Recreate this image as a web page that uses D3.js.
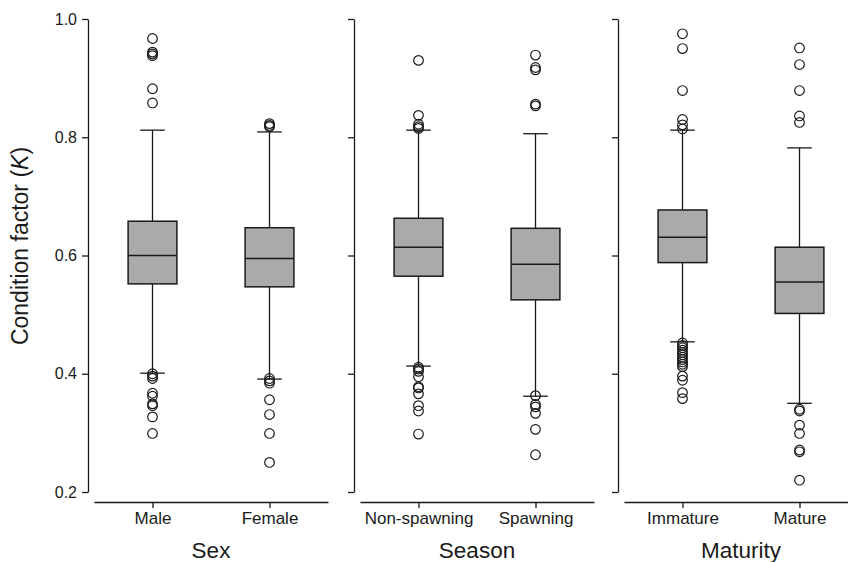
<!DOCTYPE html>
<html>
<head>
<meta charset="utf-8">
<script src="https://cdn.jsdelivr.net/npm/d3@7"></script>
<style>
  body { margin: 0; background: #fff; }
  svg { display: block; }
</style>
</head>
<body>
<div id="chart"></div>
<script>
// Data
const groupNames = ["Sex", "Season", "Maturity"];
const categories = ["Male", "Female", "Non-spawning", "Spawning", "Immature", "Mature"];
const groupOf = [0, 0, 1, 1, 2, 2];
const q3 = [0.658, 0.647, 0.663, 0.646, 0.677, 0.614];
const medians = [0.600, 0.595, 0.614, 0.585, 0.631, 0.555];
const q1 = [0.552, 0.547, 0.565, 0.525, 0.588, 0.502];
const whiskerHigh = [0.812, 0.809, 0.812, 0.806, 0.812, 0.782];
const whiskerLow = [0.401, 0.391, 0.413, 0.362, 0.454, 0.350];
const outliers = [
  [0.967, 0.944, 0.941, 0.938, 0.882, 0.858, 0.400, 0.396, 0.392, 0.367, 0.362, 0.349, 0.346, 0.327, 0.299],
  [0.823, 0.820, 0.818, 0.392, 0.388, 0.384, 0.356, 0.331, 0.299, 0.250],
  [0.930, 0.837, 0.822, 0.818, 0.815, 0.411, 0.408, 0.404, 0.395, 0.378, 0.376, 0.366, 0.346, 0.337, 0.298],
  [0.939, 0.918, 0.914, 0.856, 0.853, 0.363, 0.348, 0.344, 0.333, 0.306, 0.263],
  [0.975, 0.950, 0.879, 0.830, 0.821, 0.814, 0.452, 0.448, 0.444, 0.440, 0.436, 0.432, 0.428,
   0.424, 0.420, 0.416, 0.412, 0.396, 0.389, 0.368, 0.358],
  [0.951, 0.923, 0.879, 0.836, 0.825, 0.340, 0.337, 0.313, 0.299, 0.271, 0.268, 0.220]
];
const yTicks = [0.2, 0.4, 0.6, 0.8, 1.0];

// Layout
const width = 848;
const height = 562;
const panelLeft = [88, 354, 618];
const xAxisY = 502;
const boxHalf = 24.4;
const capHalf = 12.3;
const ink = "#1a1a1a";
const font = "'Liberation Sans', Arial, sans-serif";

const svg = d3.select("#chart")
  .append("svg")
  .attr("width", width)
  .attr("height", height)
  .attr("viewBox", `0 0 ${width} ${height}`)
  .style("font-family", font);

const y = d3.scaleLinear().domain([0.2, 1.0]).range([492, 19]);

groupNames.forEach((name, gi) => {
  const cats = categories.filter((c, i) => groupOf[i] === gi);
  const idx = categories.map((c, i) => i).filter(i => groupOf[i] === gi);

  const panel = svg.append("g")
    .attr("transform", `translate(${panelLeft[gi]},0)`);

  const x = d3.scalePoint()
    .domain(cats)
    .range([6, 240])
    .padding(0.5);

  // y axis (labels only on the first panel)
  const yAxis = panel.append("g")
    .call(d3.axisLeft(y)
      .tickValues(yTicks)
      .tickSize(6)
      .tickSizeOuter(0)
      .tickPadding(5)
      .tickFormat(gi === 0 ? d3.format(".1f") : () => ""));

  // x axis
  const xAxis = panel.append("g")
    .attr("transform", `translate(0,${xAxisY})`)
    .call(d3.axisBottom(x)
      .tickSize(6)
      .tickSizeOuter(0)
      .tickPadding(4));

  [yAxis, xAxis].forEach(ax => {
    ax.selectAll("path, line").attr("stroke", ink).attr("stroke-width", 1.3);
    ax.selectAll("text").attr("fill", ink).style("font-family", font);
  });
  yAxis.selectAll("text").style("font-size", "16px");
  xAxis.selectAll("text").style("font-size", "17px");

  // boxes
  const boxes = panel.selectAll(".box")
    .data(idx)
    .enter()
    .append("g")
    .attr("class", "box")
    .attr("transform", i => `translate(${x(categories[i])},0)`);

  // whisker stems
  boxes.append("line")
    .attr("x1", 0).attr("x2", 0)
    .attr("y1", i => y(whiskerHigh[i]))
    .attr("y2", i => y(q3[i]))
    .attr("stroke", ink).attr("stroke-width", 1.3);
  boxes.append("line")
    .attr("x1", 0).attr("x2", 0)
    .attr("y1", i => y(q1[i]))
    .attr("y2", i => y(whiskerLow[i]))
    .attr("stroke", ink).attr("stroke-width", 1.3);

  // caps
  [whiskerHigh, whiskerLow].forEach(w => {
    boxes.append("line")
      .attr("x1", -capHalf).attr("x2", capHalf)
      .attr("y1", i => y(w[i])).attr("y2", i => y(w[i]))
      .attr("stroke", ink).attr("stroke-width", 1.3);
  });

  // box
  boxes.append("rect")
    .attr("x", -boxHalf)
    .attr("width", boxHalf * 2)
    .attr("y", i => y(q3[i]))
    .attr("height", i => y(q1[i]) - y(q3[i]))
    .attr("fill", "#aaaaaa")
    .attr("stroke", ink)
    .attr("stroke-width", 1.5);

  // median
  boxes.append("line")
    .attr("x1", -boxHalf).attr("x2", boxHalf)
    .attr("y1", i => y(medians[i])).attr("y2", i => y(medians[i]))
    .attr("stroke", ink).attr("stroke-width", 1.5);

  // outliers
  boxes.selectAll(".out")
    .data(i => outliers[i])
    .enter()
    .append("circle")
    .attr("class", "out")
    .attr("cx", 0)
    .attr("cy", d => y(d))
    .attr("r", 4.8)
    .attr("fill", "none")
    .attr("stroke", ink)
    .attr("stroke-width", 1.2);

  // group title
  panel.append("text")
    .attr("x", 123)
    .attr("y", 558)
    .attr("text-anchor", "middle")
    .attr("fill", ink)
    .style("font-size", "22.5px")
    .text(name);
});

// y axis label
const yLabel = svg.append("text")
  .attr("transform", "translate(28,246) rotate(-90)")
  .attr("text-anchor", "middle")
  .attr("fill", ink)
  .style("font-size", "23px");
yLabel.append("tspan").text("Condition factor (");
yLabel.append("tspan").style("font-style", "italic").text("K");
yLabel.append("tspan").text(")");
</script>
</body>
</html>
